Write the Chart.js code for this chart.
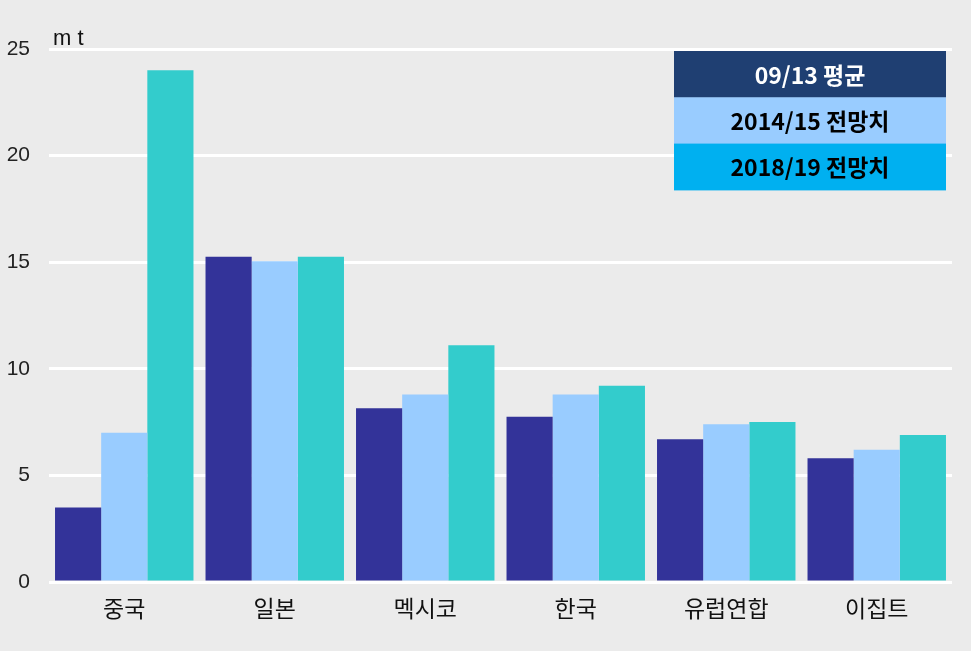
<!DOCTYPE html>
<html lang="ko">
<head>
    <meta charset="UTF-8">
    <title>국가별 수입 전망</title>
    <style>
        body { margin: 0; overflow: hidden; background-color: #ebebeb; }
        #wrap { position: relative; width: 971px; height: 651px; }
        canvas { display: block; }
    </style>
</head>
<body>
<div id="wrap"><canvas id="chart" width="971" height="651"></canvas></div>

<script src="https://cdn.jsdelivr.net/npm/chart.js"></script>
<script>
    // 데이터
    const countries = ['중국', '일본', '멕시코', '한국', '유럽연합', '이집트'];
    const seriesNames = ['09/13 평균', '2014/15 전망치', '2018/19 전망치'];
    const avg0913 = [3.5, 15.25, 8.15, 7.75, 6.7, 5.8];
    const fc1415 = [7.0, 15.05, 8.8, 8.8, 7.4, 6.2];
    const fc1819 = [24.0, 15.25, 11.1, 9.2, 7.5, 6.9];
    const yTicks = [0, 5, 10, 15, 20, 25];
    const unitLabel = 'm t';

    const barColors = ['#333399', '#99ccff', '#33cccc'];
    const legendColors = ['#1f3f72', '#99ccff', '#00b0f0'];
    const legendTextColors = ['#ffffff', '#000000', '#000000'];

    const fontFamily = "Arial, 'Liberation Sans', 'Noto Sans CJK KR', sans-serif";

    // 단위 표시 + 오른쪽 위 범례 박스
    const extras = {
        id: 'extras',
        afterDraw(chart) {
            const ctx = chart.ctx;
            const area = chart.chartArea;
            ctx.save();
            ctx.fillStyle = '#111';
            ctx.font = '22px ' + fontFamily;
            ctx.textAlign = 'left';
            ctx.textBaseline = 'alphabetic';
            ctx.fillText(unitLabel, area.left + 4, area.top - 4);

            const x = 674, y = 51, w = 272, h = 46.3;
            seriesNames.forEach((name, i) => {
                ctx.fillStyle = legendColors[i];
                ctx.fillRect(x, y + i * h, w, h + 0.5);
                ctx.fillStyle = legendTextColors[i];
                ctx.font = "bold 23px 'Noto Sans CJK KR', sans-serif";
                ctx.textAlign = 'center';
                ctx.textBaseline = 'middle';
                ctx.fillText(name, x + w / 2, y + i * h + h / 2 + 1);
            });
            ctx.restore();
        }
    };

    const ctx = document.getElementById('chart').getContext('2d');
    new Chart(ctx, {
        type: 'bar',
        data: {
            labels: countries,
            datasets: [avg0913, fc1415, fc1819].map((d, i) => ({
                label: seriesNames[i],
                data: d,
                backgroundColor: barColors[i],
                borderWidth: 0,
                categoryPercentage: 0.92,
                barPercentage: 1.0
            }))
        },
        options: {
            responsive: false,
            animation: false,
            layout: { padding: { top: 49, right: 19, left: 0, bottom: 0 } },
            plugins: {
                legend: { display: false },
                tooltip: { enabled: false }
            },
            scales: {
                x: {
                    grid: { display: false, drawTicks: false },
                    border: { display: false },
                    ticks: {
                        color: '#111',
                        padding: 12,
                        font: { family: "'Noto Sans CJK KR', sans-serif", size: 23 }
                    },
                    afterFit(scale) { scale.height = 69; }
                },
                y: {
                    min: 0,
                    max: 25,
                    afterBuildTicks(scale) { scale.ticks = yTicks.map(v => ({ value: v })); },
                    grid: { color: '#ffffff', lineWidth: 3, drawTicks: false },
                    border: { display: false },
                    ticks: {
                        color: '#222',
                        padding: 19,
                        font: { family: fontFamily, size: 21 }
                    },
                    afterFit(scale) { scale.width = 49; }
                }
            }
        },
        plugins: [extras]
    });
</script>
</body>
</html>
